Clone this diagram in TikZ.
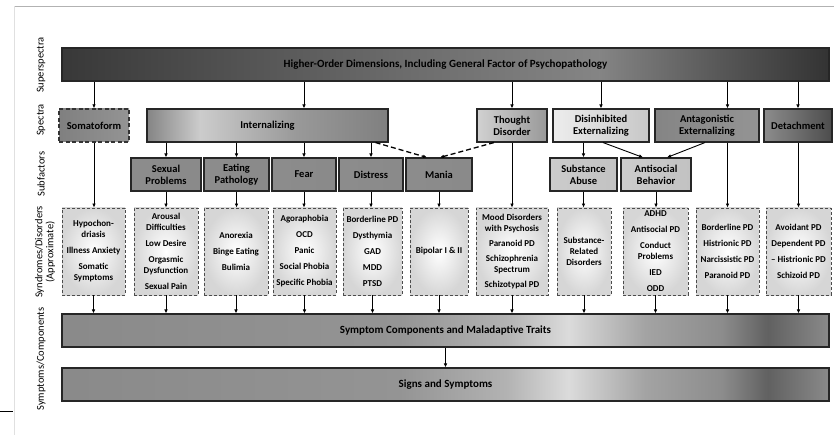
\documentclass[tikz,border=0pt]{standalone}
\usepackage{fontspec}
\setmainfont{Carlito}
\usepackage{tikz}
\usetikzlibrary{arrows.meta}
\tikzset{>={Latex[length=4pt,width=3.6pt]}}

\pgfdeclarehorizontalshading{topshade}{100bp}{color(0bp)=(black!78); color(25bp)=(black!78);
  color(47bp)=(black!58); color(60bp)=(black!48); color(68bp)=(black!66);
  color(75bp)=(black!80); color(100bp)=(black!80)}
\pgfdeclarehorizontalshading{barshade}{100bp}{color(0bp)=(black!46); color(25bp)=(black!46);
  color(47bp)=(black!42); color(54bp)=(black!30); color(58bp)=(black!14);
  color(63bp)=(black!36); color(68bp)=(black!45); color(71bp)=(black!62);
  color(75bp)=(black!46); color(100bp)=(black!46)}
\pgfdeclarehorizontalshading{intshade}{100bp}{color(0bp)=(black!48); color(25bp)=(black!48);
  color(36bp)=(black!20); color(56bp)=(black!40); color(75bp)=(black!50);
  color(100bp)=(black!50)}

\tikzstyle{solidbox} = [draw=black!85, line width=1.1pt, inner sep=1pt,
    align=center, font=\fontsize{10.5}{12}\selectfont\bfseries]
\tikzstyle{widebar} = [solidbox, minimum width=767pt, minimum height=33pt,
    font=\fontsize{11}{13}\selectfont\bfseries]
\tikzstyle{spectrum} = [solidbox, minimum height=33pt]
\tikzstyle{midgray} = [left color=black!45, middle color=black!24, right color=black!46]
\tikzstyle{lightgray} = [left color=black!20, middle color=black!9, right color=black!24]
\tikzstyle{disorder} = [draw=black!70, dashed, line width=0.9pt,
    dash pattern=on 3pt off 2pt, inner color=white, outer color=black!16,
    minimum height=87pt, inner sep=0pt, align=center,
    font=\fontsize{9}{11}\selectfont\bfseries]
\tikzstyle{side} = [rotate=90, align=center, font=\fontsize{10.5}{11}\selectfont]
\tikzstyle{conn} = [->, line width=0.9pt]
\tikzstyle{dconn} = [->, line width=1.3pt, dash pattern=on 5pt off 3pt]

\begin{document}
\begin{tikzpicture}[x=1pt,y=-1pt]
    \useasboundingbox (0,0) rectangle (834,435);
    % page edges
    \draw[black!30, line width=1.5pt] (14,6.5) to (834,6.5);
    \draw[black!12, line width=1pt] (14,6.5) to (14,435);
    \draw[line width=1pt] (0,411.5) to (13,411.5);

    % level names
    \node[side] (lsup) at (41,65) {Superspectra};
    \node[side] (lspec) at (41,120) {Spectra};
    \node[side] (lsub) at (41,174) {Subfactors};
    \node[side] (lsyn) at (45,252) {Syndromes/Disorders\\(Approximate)};
    \node[side] (lsym) at (41,359) {Symptoms/Components};

    % superspectra
    \node[widebar, shading=topshade] (ho) at (445.5,64.5)
        {Higher-Order Dimensions, Including General Factor of Psychopathology};

    % spectra
    \node[spectrum, minimum width=70pt, draw=black!80, line width=1.4pt,
        dash pattern=on 4pt off 2.5pt, left color=black!50, middle color=black!30,
        right color=black!42] (soma) at (94,125.5) {Somatoform};
    \node[spectrum, minimum width=241pt, shading=intshade] (intern) at (267.5,125.5) {Internalizing};
    \node[spectrum, minimum width=70pt, left color=black!18, right color=black!40] (thought)
        at (512,125.5) {Thought\\Disorder};
    \node[spectrum, minimum width=96pt, left color=black!7, right color=black!22] (disinh)
        at (601,125.5) {Disinhibited\\Externalizing};
    \node[spectrum, minimum width=104pt, left color=black!48, middle color=black!32,
        right color=black!42] (antag) at (707,125.5) {Antagonistic\\Externalizing};
    \node[spectrum, minimum width=68pt, left color=black!45, middle color=black!25,
        right color=black!70] (detach) at (798,125.5) {Detachment};

    % subfactors
    \node[spectrum, midgray, minimum width=70pt] (sexual) at (166,174.5) {Sexual\\Problems};
    \node[spectrum, midgray, minimum width=65pt] (eating) at (236.5,174.5) {Eating\\Pathology};
    \node[spectrum, midgray, minimum width=64pt] (fear) at (304,174.5) {Fear};
    \node[spectrum, midgray, minimum width=64pt] (distress) at (371,174.5) {Distress};
    \node[spectrum, midgray, minimum width=66pt] (mania) at (439,174.5) {Mania};
    \node[spectrum, lightgray, minimum width=67pt] (subst) at (583.5,174.5) {Substance\\Abuse};
    \node[spectrum, lightgray, minimum width=70pt] (antisoc) at (656,174.5) {Antisocial\\Behavior};

    % syndromes / disorders
    \node[disorder, minimum width=63pt] (d1) at (93.5,251.5)
        {Hypochon-\\driasis\\[5pt]Illness Anxiety\\[5pt]Somatic\\Symptoms};
    \node[disorder, minimum width=64pt] (d2) at (166,251.5)
        {Arousal\\Difficulties\\[5pt]Low Desire\\[5pt]Orgasmic\\Dysfunction\\[5pt]Sexual Pain};
    \node[disorder, minimum width=64pt] (d3) at (236,251.5)
        {Anorexia\\[5pt]Binge Eating\\[5pt]Bulimia};
    \node[disorder, minimum width=63pt] (d4) at (304.5,251.5)
        {Agoraphobia\\[5pt]OCD\\[5pt]Panic\\[5pt]Social Phobia\\[5pt]Specific Phobia};
    \node[disorder, minimum width=59pt] (d5) at (372.5,251.5)
        {Borderline PD\\[5pt]Dysthymia\\[5pt]GAD\\[5pt]MDD\\[5pt]PTSD};
    \node[disorder, minimum width=58pt] (d6) at (439,251.5) {Bipolar I \& II};
    \node[disorder, minimum width=72pt] (d7) at (512,251.5)
        {Mood Disorders\\with Psychosis\\[4pt]Paranoid PD\\[4pt]Schizophrenia\\Spectrum\\[4pt]Schizotypal PD};
    \node[disorder, minimum width=54pt] (d8) at (584,251.5) {Substance-\\Related\\Disorders};
    \node[disorder, minimum width=65pt] (d9) at (655.5,251.5)
        {ADHD\\[5pt]Antisocial PD\\[5pt]Conduct\\Problems\\[5pt]IED\\[5pt]ODD};
    \node[disorder, minimum width=63pt] (d10) at (727.5,251.5)
        {Borderline PD\\[5pt]Histrionic PD\\[5pt]Narcissistic PD\\[5pt]Paranoid PD};
    \node[disorder, minimum width=65pt] (d11) at (798.5,251.5)
        {Avoidant PD\\[5pt]Dependent PD\\[5pt]-- Histrionic PD\\[5pt]Schizoid PD};

    % symptoms / components
    \node[widebar, shading=barshade] (symp) at (445.5,330.5) {Symptom Components and Maladaptive Traits};
    \node[widebar, shading=barshade] (signs) at (445.5,384.5) {Signs and Symptoms};

    % superspectra to spectra
    \draw[conn] (ho.south -| soma.north) to (soma.north);
    \draw[conn] (ho.south -| fear.north) to (intern.north -| fear.north);
    \draw[conn] (ho.south -| thought.north) to (thought.north);
    \draw[conn] (ho.south -| disinh.north) to (disinh.north);
    \draw[conn] (ho.south -| d10.north) to (antag.north -| d10.north);
    \draw[conn] (ho.south -| detach.north) to (detach.north);

    % spectra to subfactors
    \draw[conn] (intern.south -| sexual.north) to (sexual.north);
    \draw[conn] (intern.south -| eating.north) to (eating.north);
    \draw[conn] (intern.south -| fear.north) to (fear.north);
    \draw[conn] (intern.south -| distress.north) to (distress.north);
    \draw[dconn] ([xshift=-13pt]intern.south east) to ([xshift=-12pt]mania.north);
    \draw[dconn] ([xshift=-18pt]thought.south) to ([xshift=1pt]mania.north);
    \draw[conn] (disinh.south -| subst.north) to (subst.north);
    \draw[conn] ([xshift=2pt]disinh.south) to ([xshift=-13pt]antisoc.north);
    \draw[conn] ([xshift=-2pt]antag.south) to ([xshift=11pt]antisoc.north);

    % down to syndromes / disorders
    \draw[conn] (soma.south) to (d1.north -| soma.south);
    \draw[conn] (sexual.south) to (d2.north -| sexual.south);
    \draw[conn] (eating.south) to (d3.north -| eating.south);
    \draw[conn] (fear.south) to (d4.north -| fear.south);
    \draw[conn] (distress.south) to (d5.north -| distress.south);
    \draw[conn] (mania.south) to (d6.north);
    \draw[conn] (thought.south) to (d7.north);
    \draw[conn] (subst.south) to (d8.north -| subst.south);
    \draw[conn] (antisoc.south) to (d9.north -| antisoc.south);
    \draw[conn] (antag.south -| d10.north) to (d10.north);
    \draw[conn] (detach.south -| d11.north) to (d11.north);

    % syndromes / disorders to components
    \foreach \d in {d1,d2,d3,d4,d5,d6,d7,d8,d9,d10,d11}
        \draw[conn] (\d.south) to (symp.north -| \d.south);
    \draw[conn] (symp.south) to (signs.north);
\end{tikzpicture}
\end{document}
